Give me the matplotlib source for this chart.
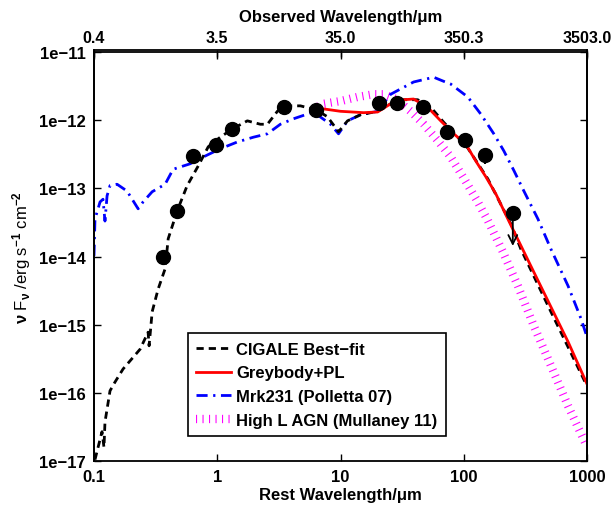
import numpy as np
import matplotlib
matplotlib.use("Agg")
import matplotlib.pyplot as plt
from matplotlib.ticker import FixedLocator, FixedFormatter, NullLocator

plt.rcParams["font.family"] = ["Liberation Sans", "DejaVu Sans"]
plt.rcParams["font.weight"] = "bold"
plt.rcParams["mathtext.fontset"] = "custom"
plt.rcParams["mathtext.rm"] = "Liberation Sans:bold"
plt.rcParams["mathtext.it"] = "Liberation Sans:bold"
plt.rcParams["mathtext.bf"] = "Liberation Sans:bold"

# photometry (rest wavelength in um, nuFnu in erg/s/cm2)
phot_lam = [0.364, 0.473, 0.638, 0.98, 1.32, 3.51, 6.38, 20.4, 29.0, 46.4, 72.8, 102, 148, 250]
phot_flux = [9.9e-15, 4.67e-14, 2.99e-13, 4.33e-13, 7.43e-13, 1.56e-12, 1.41e-12,
             1.79e-12, 1.79e-12, 1.56e-12, 6.71e-13, 5.13e-13, 3.09e-13, 4.36e-14]
phot_err = [0, 0, 0, 0, 0, 0, 0, 0, 0, 0, 0, 0, 0.8e-13, 0]
ulim_lam = 250
ulim_top = 4.36e-14
ulim_bottom = 1.3e-14

# model curves, log10 wavelength / log10 nuFnu
cigale_loglam = [-0.992, -0.935, -0.919, -0.911, -0.870, -0.829, -0.764, -0.626, -0.561, -0.553,
                 -0.528, -0.480, -0.423, -0.398, -0.325, -0.244, -0.154, -0.073, 0.024, 0.122,
                 0.244, 0.350, 0.407, 0.488, 0.545, 0.675, 0.805, 0.894, 0.984, 1.057,
                 1.163, 1.301, 1.407, 1.512, 1.626, 1.732, 1.837, 2.033, 2.195, 2.382,
                 2.463, 2.707, 3.0]
cigale_logf = [-16.98, -16.57, -16.80, -16.43, -15.97, -15.84, -15.65, -15.36, -15.11, -15.31,
               -14.81, -14.48, -14.18, -13.74, -13.33, -12.96, -12.67, -12.39, -12.25, -12.13,
               -12.01, -12.06, -12.06, -11.87, -11.79, -11.79, -11.85, -11.95, -12.17, -12.01,
               -11.92, -11.87, -11.76, -11.70, -11.70, -11.81, -12.03, -12.41, -12.86, -13.52,
               -13.89, -14.81, -15.90]

grey_loglam = [0.805, 1.000, 1.187, 1.301, 1.407, 1.512, 1.593, 1.707, 1.813, 1.919,
               2.016, 2.098, 2.179, 2.260, 2.358, 2.569, 2.683, 2.846, 3.0]
grey_logf = [-11.82, -11.87, -11.89, -11.88, -11.76, -11.70, -11.69, -11.81, -12.01, -12.20,
             -12.35, -12.60, -12.83, -13.08, -13.45, -14.23, -14.65, -15.25, -15.87]

mrk_loglam = [-1.0, -0.992, -0.951, -0.927, -0.911, -0.894, -0.870, -0.813, -0.732, -0.642,
              -0.602, -0.528, -0.423, -0.358, -0.220, -0.114, 0.024, 0.163, 0.293, 0.407,
              0.512, 0.618, 0.732, 0.780, 0.919, 0.984, 1.057, 1.163, 1.301, 1.407,
              1.593, 1.756, 1.837, 1.894, 2.033, 2.138, 2.244, 2.325, 2.407, 2.488,
              2.602, 2.707, 2.846, 2.951, 3.0]
mrk_logf = [-13.99, -13.45, -13.20, -13.16, -13.48, -13.11, -12.96, -12.94, -13.04, -13.30,
            -13.20, -13.05, -12.94, -12.72, -12.64, -12.54, -12.42, -12.32, -12.25, -12.20,
            -12.06, -11.98, -11.91, -11.88, -12.06, -12.20, -12.01, -11.92, -11.87, -11.62,
            -11.44, -11.37, -11.43, -11.47, -11.66, -11.91, -12.20, -12.45, -12.74, -13.04,
            -13.45, -13.89, -14.43, -14.91, -15.18]

agn_loglam = [0.820, 0.862, 1.000, 1.138, 1.268, 1.350, 1.450, 1.569, 1.675, 1.789,
              1.894, 2.000, 2.114, 2.195, 2.317, 2.439, 2.569, 2.707, 2.846, 3.0]
agn_logf = [-11.80, -11.76, -11.72, -11.66, -11.62, -11.62, -11.69, -11.87, -12.06, -12.30,
            -12.54, -12.85, -13.20, -13.47, -13.93, -14.43, -15.02, -15.60, -16.19, -16.79]

rest_ticks = [0.1, 1, 10, 100, 1000]
rest_labels = ["0.1", "1", "10", "100", "1000"]
obs_labels = ["0.4", "3.5", "35.0", "350.3", "3503.0"]
flux_ticks = [1e-17, 1e-16, 1e-15, 1e-14, 1e-13, 1e-12, 1e-11]
flux_labels = ["1e\u221217", "1e\u221216", "1e\u221215", "1e\u221214",
               "1e\u221213", "1e\u221212", "1e\u221211"]

fig = plt.figure(figsize=(6.14, 5.06), dpi=100)
left, bottom, width, height = 94 / 614, 44 / 506, 493 / 614, 409 / 506
ax = fig.add_axes([left, bottom, width, height])


def unlog(a):
    return 10 ** np.array(a)


ax.plot(unlog(agn_loglam), unlog(agn_logf), color=(1, 0, 1), lw=6,
        linestyle=(0, (0.13, 0.65)), dash_capstyle="butt",
        label="High L AGN (Mullaney 11)", zorder=1)
ax.plot(unlog(mrk_loglam), unlog(mrk_logf), color="b", lw=2,
        linestyle=(0, (4, 2, 0.8, 2)), label="Mrk231 (Polletta 07)", zorder=2)
ax.plot(unlog(cigale_loglam), unlog(cigale_logf), color="k", lw=2,
        linestyle=(0, (2.6, 1.8)), label="CIGALE Best\u2212fit", zorder=3)
ax.plot(unlog(grey_loglam), unlog(grey_logf), color="r", lw=2,
        label="Greybody+PL", zorder=4)

ax.errorbar(phot_lam, phot_flux, yerr=phot_err, fmt="o", color="k", ms=10,
            elinewidth=1.5, capsize=0, zorder=5)
ax.annotate("", xy=(ulim_lam, ulim_bottom), xytext=(ulim_lam, ulim_top),
            arrowprops=dict(arrowstyle="->", color="k", lw=1.3, mutation_scale=16),
            zorder=6)

ax.set_xscale("log")
ax.set_yscale("log")
ax.set_xlim(0.1, 1000)
ax.set_ylim(1e-17, 1e-11)
ax.xaxis.set_major_locator(FixedLocator(rest_ticks))
ax.xaxis.set_major_formatter(FixedFormatter(rest_labels))
ax.yaxis.set_major_locator(FixedLocator(flux_ticks))
ax.yaxis.set_major_formatter(FixedFormatter(flux_labels))
ax.xaxis.set_minor_locator(NullLocator())
ax.yaxis.set_minor_locator(NullLocator())
ax.tick_params(direction="in", length=5, width=1, labelsize=12, pad=6,
               top=True, right=True)
for s in ax.spines.values():
    s.set_linewidth(1.3)

ax.set_xlabel("Rest Wavelength/\u03bcm", fontsize=12, fontweight="bold", labelpad=2)
ax.set_ylabel(r"$\nu$ F$_\nu$ /erg s$^{-1}$ cm$^{-2}$", fontsize=12, labelpad=4)

leg = ax.legend(
    [ax.lines[2], ax.lines[3], ax.lines[1], ax.lines[0]],
    ["CIGALE Best\u2212fit", "Greybody+PL", "Mrk231 (Polletta 07)", "High L AGN (Mullaney 11)"],
    loc="lower left", bbox_to_anchor=(0.19, 0.061), borderaxespad=0, fontsize=12,
    fancybox=False, framealpha=1, edgecolor="k", handlelength=2.1,
    labelspacing=0.52, borderpad=0.5, handletextpad=0.3,
)
leg.get_frame().set_linewidth(1.2)

# observed wavelength axis on top
ax2 = fig.add_axes([left, bottom, width, height + 2.5 / 506], facecolor="none")
ax2.set_xscale("log")
ax2.set_xlim(0.1, 1000)
ax2.xaxis.set_major_locator(FixedLocator(rest_ticks))
ax2.xaxis.set_major_formatter(FixedFormatter(obs_labels))
ax2.xaxis.set_minor_locator(NullLocator())
ax2.xaxis.tick_top()
ax2.xaxis.set_label_position("top")
ax2.set_yticks([])
ax2.spines["bottom"].set_visible(False)
for s in ax2.spines.values():
    s.set_linewidth(1.3)
ax2.tick_params(direction="in", length=5, width=1, labelsize=11.5, pad=3)
ax2.set_xlabel("Observed Wavelength/\u03bcm", fontsize=12, fontweight="bold", labelpad=7)

fig.savefig("out.png", dpi=100)
plt.close(fig)
